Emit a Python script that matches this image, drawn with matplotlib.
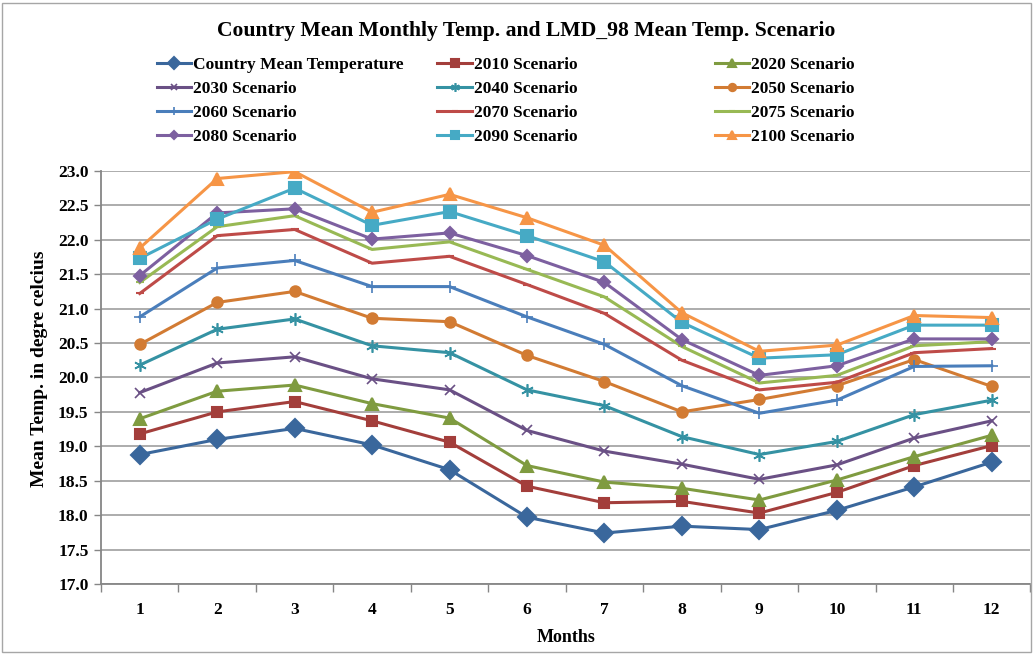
import matplotlib
matplotlib.use("Agg")
import matplotlib.pyplot as plt
from matplotlib.patches import Rectangle

months = [1, 2, 3, 4, 5, 6, 7, 8, 9, 10, 11, 12]

country_mean = [18.88, 19.10, 19.26, 19.02, 18.66, 17.97, 17.74, 17.84, 17.79, 18.07, 18.41, 18.77]
s2010 = [19.18, 19.50, 19.65, 19.37, 19.06, 18.42, 18.18, 18.20, 18.03, 18.33, 18.72, 19.01]
s2020 = [19.40, 19.80, 19.89, 19.62, 19.41, 18.72, 18.48, 18.39, 18.22, 18.51, 18.85, 19.16]
s2030 = [19.78, 20.21, 20.30, 19.98, 19.82, 19.23, 18.93, 18.74, 18.52, 18.73, 19.12, 19.37]
s2040 = [20.18, 20.70, 20.85, 20.46, 20.36, 19.82, 19.59, 19.14, 18.88, 19.07, 19.46, 19.67]
s2050 = [20.48, 21.09, 21.25, 20.86, 20.81, 20.32, 19.94, 19.50, 19.68, 19.88, 20.26, 19.87]
s2060 = [20.88, 21.59, 21.70, 21.32, 21.32, 20.88, 20.48, 19.88, 19.48, 19.67, 20.16, 20.17]
s2070 = [21.22, 22.06, 22.15, 21.66, 21.76, 21.35, 20.93, 20.25, 19.82, 19.93, 20.36, 20.42]
s2075 = [21.38, 22.19, 22.35, 21.86, 21.97, 21.57, 21.17, 20.45, 19.92, 20.03, 20.46, 20.52]
s2080 = [21.48, 22.39, 22.45, 22.01, 22.10, 21.77, 21.38, 20.55, 20.03, 20.17, 20.56, 20.56]
s2090 = [21.73, 22.30, 22.75, 22.21, 22.41, 22.06, 21.68, 20.80, 20.28, 20.33, 20.76, 20.76]
s2100 = [21.88, 22.89, 22.99, 22.40, 22.66, 22.32, 21.92, 20.94, 20.38, 20.47, 20.90, 20.87]

series = [
    ("Country Mean Temperature", country_mean, "#3A679C", "D", 9),
    ("2010 Scenario", s2010, "#A33E3B", "s", 7.5),
    ("2020 Scenario", s2020, "#7F9B40", "^", 8),
    ("2030 Scenario", s2030, "#6A5085", "x", 7),
    ("2040 Scenario", s2040, "#3592A3", (6, 2, 0), 9),
    ("2050 Scenario", s2050, "#D27B33", "o", 7.5),
    ("2060 Scenario", s2060, "#4A7EBB", "+", 9),
    ("2070 Scenario", s2070, "#BE4B48", "_", 6),
    ("2075 Scenario", s2075, "#98B954", "_", 6),
    ("2080 Scenario", s2080, "#7D60A0", "D", 6.5),
    ("2090 Scenario", s2090, "#46AAC5", "s", 8),
    ("2100 Scenario", s2100, "#F69546", "^", 8.5),
]

plt.rcParams['font.family'] = ['Liberation Serif', 'DejaVu Serif']

fig = plt.figure(figsize=(10.35, 6.56), dpi=100)
ax = fig.add_axes([0.0976, 0.1098, 0.8980, 0.6296])

handles = []
for name, vals, col, mk, ms in series:
    thin = mk in ("x", "+") or isinstance(mk, tuple)
    h, = ax.plot(months, vals, color=col, lw=2.2, marker=mk, markersize=ms,
                 markeredgewidth=1.2 if thin else 1.5, markerfacecolor=col,
                 markeredgecolor=col, label=name, zorder=3)
    handles.append(h)

ax.set_xlim(0.5, 12.5)
ax.set_ylim(17.0, 23.0)
ax.set_yticks([17.0 + 0.5 * i for i in range(13)])
ax.set_yticklabels(["%.1f" % (17.0 + 0.5 * i) for i in range(13)])
ax.set_xticks(months)
ax.set_xticks([0.5 + i for i in range(13)], minor=True)
ax.tick_params(axis='x', which='major', length=0, pad=13, labelsize=12.5)
ax.tick_params(axis='x', which='minor', length=6, width=1, color="#868686", direction='out')
ax.tick_params(axis='y', length=5, width=1, color="#868686", labelsize=12.5, pad=4)
for lab in ax.get_xticklabels() + ax.get_yticklabels():
    lab.set_fontweight('bold')

ax.grid(axis='y', color="#A6A6A6", lw=1.3, zorder=0)
ax.set_axisbelow(True)
for s in ("top", "right"):
    ax.spines[s].set_visible(False)
for s in ("left", "bottom"):
    ax.spines[s].set_color("#868686")
    ax.spines[s].set_linewidth(1.3)

ax.set_xlabel("Months", fontsize=13, fontweight='bold', labelpad=8)
ax.set_ylabel("Mean Temp. in degre celcius", fontsize=14, fontweight='bold')
ax.yaxis.set_label_coords(-0.057, 0.52)

fig.text(0.508, 0.953, "Country Mean Monthly Temp. and LMD_98 Mean Temp. Scenario",
         ha='center', va='center', fontsize=15.6, fontweight='bold')

# legend in three columns, row-wise order like the original
xs = [0.143, 0.414, 0.682]
for c in range(3):
    hs = handles[c::3]
    fig.legend(handles=hs, labels=[h.get_label() for h in hs], loc='upper left',
               bbox_to_anchor=(xs[c], 0.927), frameon=False, ncol=1,
               prop={'weight': 'bold', 'size': 12.5}, handlelength=2.0,
               handletextpad=0.1, labelspacing=0.45, borderpad=0, markerscale=0.7)

fig.patches.append(Rectangle((0.002, 0.006), 0.994, 0.99, transform=fig.transFigure,
                             fill=False, edgecolor="#A6A6A6", lw=1))

fig.savefig("out.png", dpi=100)
